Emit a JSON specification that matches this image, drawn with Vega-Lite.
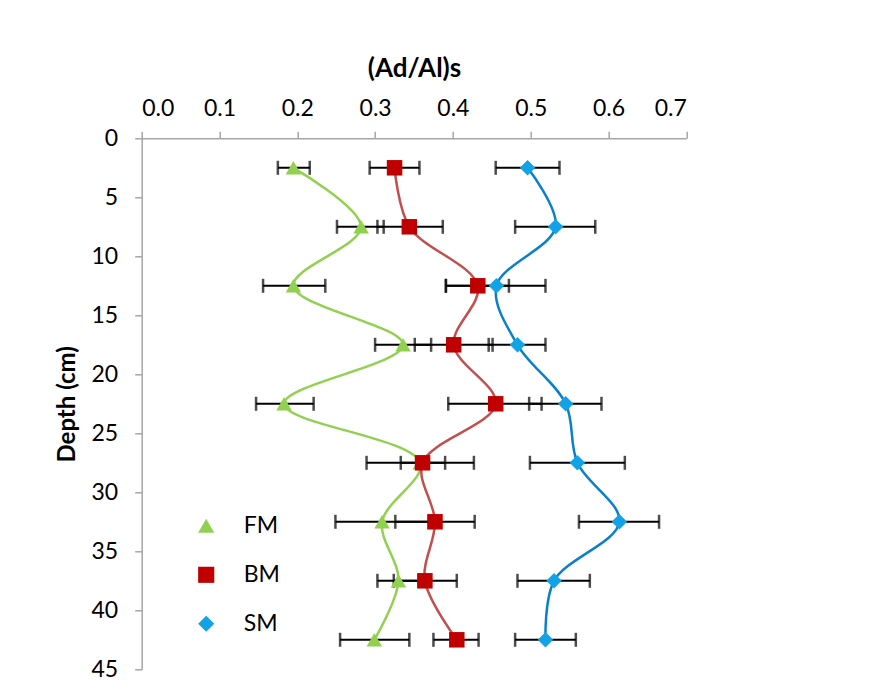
{
  "$schema": "https://vega.github.io/schema/vega-lite/v6.json",
  "autosize": "none",
  "width": 544.6,
  "height": 531,
  "padding": {"left": 141.7, "top": 138.3, "right": 183.7, "bottom": 28.7},
  "background": "white",
  "config": {
    "view": {"stroke": null},
    "font": "Lato",
    "axis": {
      "domainColor": "#A6A6A6",
      "domainWidth": 1.5,
      "tickColor": "#A6A6A6",
      "tickWidth": 1.5,
      "tickSize": 7,
      "labelColor": "black",
      "labelFontSize": 23,
      "titleColor": "black",
      "titleFontSize": 25,
      "titleFontWeight": "bold",
      "grid": false
    }
  },
  "data": {
    "values": [
      {"series": "FM", "depth": 2.5, "value": 0.195, "lo": 0.175, "hi": 0.216},
      {"series": "FM", "depth": 7.5, "value": 0.282, "lo": 0.251, "hi": 0.311},
      {"series": "FM", "depth": 12.5, "value": 0.195, "lo": 0.156, "hi": 0.236},
      {"series": "FM", "depth": 17.5, "value": 0.336, "lo": 0.300, "hi": 0.372},
      {"series": "FM", "depth": 22.5, "value": 0.183, "lo": 0.147, "hi": 0.221},
      {"series": "FM", "depth": 27.5, "value": 0.358, "lo": 0.289, "hi": 0.427},
      {"series": "FM", "depth": 32.5, "value": 0.309, "lo": 0.249, "hi": 0.369},
      {"series": "FM", "depth": 37.5, "value": 0.330, "lo": 0.303, "hi": 0.356},
      {"series": "FM", "depth": 42.5, "value": 0.299, "lo": 0.255, "hi": 0.344},
      {"series": "BM", "depth": 2.5, "value": 0.325, "lo": 0.293, "hi": 0.357},
      {"series": "BM", "depth": 7.5, "value": 0.344, "lo": 0.303, "hi": 0.387},
      {"series": "BM", "depth": 12.5, "value": 0.432, "lo": 0.391, "hi": 0.472},
      {"series": "BM", "depth": 17.5, "value": 0.401, "lo": 0.351, "hi": 0.451},
      {"series": "BM", "depth": 22.5, "value": 0.455, "lo": 0.394, "hi": 0.514},
      {"series": "BM", "depth": 27.5, "value": 0.361, "lo": 0.333, "hi": 0.390},
      {"series": "BM", "depth": 32.5, "value": 0.377, "lo": 0.326, "hi": 0.428},
      {"series": "BM", "depth": 37.5, "value": 0.364, "lo": 0.324, "hi": 0.405},
      {"series": "BM", "depth": 42.5, "value": 0.405, "lo": 0.375, "hi": 0.433},
      {"series": "SM", "depth": 2.5, "value": 0.496, "lo": 0.455, "hi": 0.537},
      {"series": "SM", "depth": 7.5, "value": 0.532, "lo": 0.480, "hi": 0.583},
      {"series": "SM", "depth": 12.5, "value": 0.456, "lo": 0.391, "hi": 0.519},
      {"series": "SM", "depth": 17.5, "value": 0.483, "lo": 0.446, "hi": 0.519},
      {"series": "SM", "depth": 22.5, "value": 0.545, "lo": 0.498, "hi": 0.591},
      {"series": "SM", "depth": 27.5, "value": 0.560, "lo": 0.499, "hi": 0.621},
      {"series": "SM", "depth": 32.5, "value": 0.614, "lo": 0.562, "hi": 0.665},
      {"series": "SM", "depth": 37.5, "value": 0.530, "lo": 0.483, "hi": 0.576},
      {"series": "SM", "depth": 42.5, "value": 0.519, "lo": 0.480, "hi": 0.558}
    ]
  },
  "encoding": {
    "y": {
      "field": "depth",
      "type": "quantitative",
      "title": "Depth (cm)",
      "scale": {"domain": [0, 45], "reverse": true, "nice": false, "zero": false},
      "axis": {"values": [0, 5, 10, 15, 20, 25, 30, 35, 40, 45], "labelPadding": 17, "titlePadding": 12, "titleFontSize": 24}
    },
    "x": {
      "field": "value",
      "type": "quantitative",
      "title": "(Ad/Al)s",
      "scale": {"domain": [0, 0.7], "nice": false, "zero": false},
      "axis": {"orient": "top", "values": [0, 0.1, 0.2, 0.3, 0.4, 0.5, 0.6, 0.7], "format": ".1f", "labelPadding": 11, "titlePadding": 16, "titleFontSize": 26}
    }
  },
  "layer": [
    {
      "transform": [{"filter": "datum.series === 'FM'"}],
      "mark": {"type": "line", "interpolate": "catmull-rom", "strokeWidth": 2.5, "color": "#92D050"},
      "encoding": {"order": {"field": "depth", "type": "quantitative"}}
    },
    {
      "transform": [{"filter": "datum.series === 'BM'"}],
      "mark": {"type": "line", "interpolate": "catmull-rom", "strokeWidth": 2.5, "color": "#C0504D"},
      "encoding": {"order": {"field": "depth", "type": "quantitative"}}
    },
    {
      "transform": [{"filter": "datum.series === 'SM'"}],
      "mark": {"type": "line", "interpolate": "catmull-rom", "strokeWidth": 2.5, "color": "#0A80C8"},
      "encoding": {"order": {"field": "depth", "type": "quantitative"}}
    },
    {
      "mark": {"type": "rule", "color": "black", "strokeWidth": 2},
      "encoding": {
        "x": {"field": "lo", "type": "quantitative"},
        "x2": {"field": "hi"},
        "detail": {"field": "series", "type": "nominal"}
      }
    },
    {
      "mark": {"type": "tick", "orient": "vertical", "color": "black", "size": 14, "thickness": 2.5},
      "encoding": {
        "x": {"field": "lo", "type": "quantitative"},
        "detail": {"field": "series", "type": "nominal"}
      }
    },
    {
      "mark": {"type": "tick", "orient": "vertical", "color": "black", "size": 14, "thickness": 2.5},
      "encoding": {
        "x": {"field": "hi", "type": "quantitative"},
        "detail": {"field": "series", "type": "nominal"}
      }
    },
    {
      "mark": {"type": "point", "filled": true, "opacity": 1, "size": 240},
      "encoding": {
        "color": {
          "field": "series",
          "type": "nominal",
          "scale": {"domain": ["FM", "BM", "SM"], "range": ["#92D050", "#C00000", "#12A2E6"]},
          "legend": {
            "title": null,
            "orient": "none",
            "legendX": 53,
            "legendY": 376,
            "labelFontSize": 23,
            "labelColor": "black",
            "labelOffset": 26,
            "rowPadding": 25,
            "symbolSize": 260
          }
        },
        "shape": {
          "field": "series",
          "type": "nominal",
          "scale": {"domain": ["FM", "BM", "SM"], "range": ["triangle-up", "square", "diamond"]},
          "legend": {"title": null}
        }
      }
    }
  ]
}
